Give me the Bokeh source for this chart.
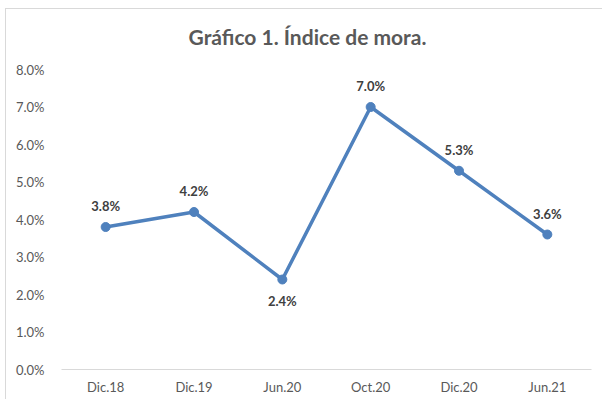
from bokeh.plotting import figure
from bokeh.models import ColumnDataSource, FactorRange, Range1d, NumeralTickFormatter, FixedTicker, Label
from bokeh.core.properties import value
from bokeh.embed import file_html
from bokeh.resources import INLINE

categories = ["Dic.18", "Dic.19", "Jun.20", "Oct.20", "Dic.20", "Jun.21"]
mora = [0.038, 0.042, 0.024, 0.070, 0.053, 0.036]
labels = ["3.8%", "4.2%", "2.4%", "7.0%", "5.3%", "3.6%"]
label_offsets = [-21, -21, 21, -21, -21, -21]
y_ticks = [0.0, 0.01, 0.02, 0.03, 0.04, 0.05, 0.06, 0.07, 0.08]
title_text = "Gráfico 1. Índice de mora."

FONT = "Lato"
LINE = "#4F81BD"

src = ColumnDataSource(dict(x=categories, y=mora, t=labels, off=label_offsets))

W, H = 597, 391
# frame reaches the top of the canvas so the title label (drawn inside the frame) is visible;
# ticks stop at 8.0%, the headroom above holds the title
p = figure(width=W, height=H, output_backend="svg", toolbar_location=None,
           x_range=FactorRange(*categories, range_padding=0), y_range=Range1d(0, 0.096),
           min_border_left=55, min_border_right=12, min_border_top=0, min_border_bottom=31)

# screen units are measured from the frame's bottom-left corner
p.add_layout(Label(x=246, y=333, x_units="screen", y_units="screen", text=title_text,
                   text_align="center", text_baseline="middle", text_font=FONT,
                   text_font_size="21px", text_font_style="bold", text_color="#595959"))

p.outline_line_color = None
p.grid.visible = False
p.background_fill_color = "white"
p.border_fill_color = "white"
p.styles = {"border-left": "1px solid #D9D9D9", "border-top": "1px solid #D9D9D9",
            "margin-left": "5px", "margin-top": "8px"}

p.yaxis.ticker = FixedTicker(ticks=y_ticks)
p.yaxis.formatter = NumeralTickFormatter(format="0.0%")
p.yaxis.axis_line_color = None
p.yaxis.major_tick_line_color = None
p.yaxis.minor_tick_line_color = None
p.yaxis.major_label_text_font = FONT
p.yaxis.major_label_text_font_size = "13px"
p.yaxis.major_label_text_color = "#595959"
p.yaxis.major_label_standoff = 11

p.xaxis.axis_line_color = "#D9D9D9"
p.xaxis.axis_line_width = 1
p.xaxis.major_tick_line_color = None
p.xaxis.minor_tick_line_color = None
p.xaxis.major_label_text_font = FONT
p.xaxis.major_label_text_font_size = "13px"
p.xaxis.major_label_text_color = "#595959"
p.xaxis.major_label_standoff = 3

p.line("x", "y", source=src, line_color=LINE, line_width=3.5)
p.scatter("x", "y", source=src, size=9, fill_color=LINE, line_color=LINE)
p.text("x", "y", text="t", source=src, y_offset="off", text_align="center",
       text_baseline="middle", text_font=value(FONT), text_font_size="13px",
       text_font_style="bold", text_color="#404040")

open("out.html", "w").write(file_html(p, INLINE))
